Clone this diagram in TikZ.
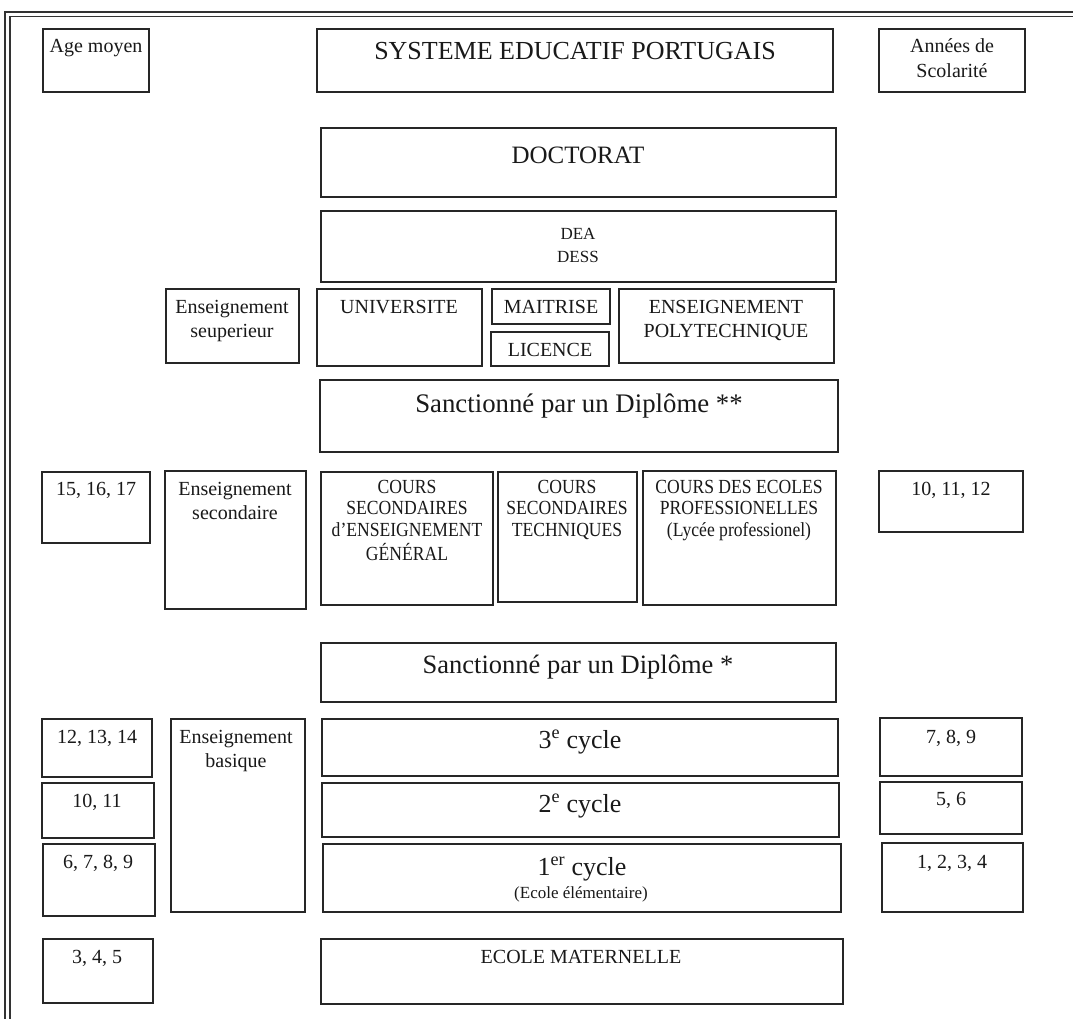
\documentclass[tikz,border=0pt]{standalone}
\usepackage{fontspec}
\setmainfont{Liberation Serif}
\newfontfamily\condfont[FakeStretch=0.88]{Liberation Serif}
\newcommand\bx[5]{\node[box, minimum width={(#4-#2)*1pt}, minimum height={(#5-#3)*1pt}] (#1) at ({(#2+#4)/2},{(#3+#5)/2}) {};}
\newcommand\ml[1]{\begin{tabular}[t]{@{}c@{}}#1\end{tabular}}
\tikzset{
  box/.style={draw=black!85, line width=1.7pt, inner sep=0pt, outer sep=0pt},
  txt/.style={anchor=base, inner sep=0pt, outer sep=0pt, text=black!90},
  s17/.style={font=\fontsize{17}{22}\selectfont},
  s18/.style={font=\condfont\fontsize{20}{21.7}\selectfont},
  s20/.style={font=\fontsize{20}{24}\selectfont},
  s26/.style={font=\fontsize{26}{30}\selectfont},
  s27/.style={font=\fontsize{26.8}{30}\selectfont},
  frameline/.style={draw=black!80, line width=1.3pt}
}
\begin{document}
\begin{tikzpicture}[x=1pt,y=-1pt]
\useasboundingbox[fill=white] (0,0) rectangle (1073,1019);
% outer double frame
\draw[frameline] (5,1019) -- (5,12) -- (1073,12);
\draw[frameline] (10,1019) -- (10,16.5) -- (1073,16.5);
% boxes
\bx{age}{43}{29}{149}{92}
\bx{sys}{317}{29}{833}{92}
\bx{ann}{879}{29}{1025}{92}
\bx{doc}{321}{128}{836}{197}
\bx{dea}{321}{211}{836}{282}
\bx{esup}{166}{289}{299}{363}
\bx{univ}{317}{289}{482}{366}
\bx{mait}{492}{289}{610}{324}
\bx{lic}{491}{332}{609}{366}
\bx{poly}{619}{289}{834}{363}
\bx{dipB}{320}{380}{838}{452}
\bx{aA}{42}{472}{150}{543}
\bx{esec}{165}{471}{306}{609}
\bx{csg}{321}{472}{493}{605}
\bx{cst}{498}{472}{637}{602}
\bx{cep}{643}{471}{836}{605}
\bx{yA}{879}{471}{1023}{532}
\bx{dipA}{321}{643}{836}{702}
\bx{aB}{42}{719}{152}{777}
\bx{ebas}{171}{719}{305}{912}
\bx{cthree}{322}{719}{838}{776}
\bx{ctwo}{322}{783}{839}{837}
\bx{cone}{323}{844}{841}{912}
\bx{mat}{321}{939}{843}{1004}
\bx{yB}{880}{718}{1022}{776}
\bx{yC}{880}{782}{1022}{834}
\bx{yD}{882}{843}{1023}{912}
\bx{aC}{42}{783}{154}{838}
\bx{aD}{43}{844}{155}{916}
\bx{aE}{43}{939}{153}{1003}
% texts
\node[txt,s20] (tage) at (96,53) {Age moyen};
\node[txt,s26] (tsys) at (575,60) {SYSTEME EDUCATIF PORTUGAIS};
\node[txt,font=\fontsize{20}{25}\selectfont] (tann) at (952,53) {\ml{Années de\\Scolarité}};
\node[txt,font=\fontsize{25}{30}\selectfont] (tdoc) at (578,164) {DOCTORAT};
\node[txt,s17] (tdea) at (578,240) {\ml{DEA\\DESS}};
\node[txt,s20] (tesup) at (232,313) {\ml{Enseignement\\seuperieur}};
\node[txt,s20] (tuniv) at (399,313) {UNIVERSITE};
\node[txt,s20] (tmait) at (551,313) {MAITRISE};
\node[txt,s20] (tlic) at (550,356) {LICENCE};
\node[txt,s20] (tpoly) at (726,313) {\ml{ENSEIGNEMENT\\POLYTECHNIQUE}};
\node[txt,s27] (tdipB) at (579,412) {Sanctionné par un Diplôme **};
\node[txt,s20] (taA) at (96,495) {15, 16, 17};
\node[txt,s20] (tesec) at (235,495) {\ml{Enseignement\\secondaire}};
\node[txt,s18] (tcsg) at (407,493) {\ml{COURS\\SECONDAIRES\\d’ENSEIGNEMENT\\GÉNÉRAL}};
\node[txt,s18] (tcst) at (567,493) {\ml{COURS\\SECONDAIRES\\TECHNIQUES}};
\node[txt,s18] (tcep) at (739,493) {\ml{COURS DES ECOLES\\PROFESSIONELLES\\(Lycée professionel)}};
\node[txt,s20] (tyA) at (951,495) {10, 11, 12};
\node[txt,font=\fontsize{26.5}{30}\selectfont] (tdipA) at (578,673) {Sanctionné par un Diplôme *};
\node[txt,s20] (taB) at (97,743) {12, 13, 14};
\node[txt,s20] (tebas) at (236,743) {\ml{Enseignement\\basique}};
\node[txt,s26] (tcthree) at (580,748) {3\textsuperscript{e} cycle};
\node[txt,s26] (tctwo) at (580,812) {2\textsuperscript{e} cycle};
\node[txt,s26] (tcone) at (582,875) {1\textsuperscript{er} cycle};
\node[txt,s17] (tconeb) at (581,898) {(Ecole élémentaire)};
\node[txt,s20] (tmat) at (581,963) {ECOLE MATERNELLE};
\node[txt,s20] (tyB) at (951,743) {7, 8, 9};
\node[txt,s20] (tyC) at (951,805) {5, 6};
\node[txt,s20] (tyD) at (952,868) {1, 2, 3, 4};
\node[txt,s20] (taC) at (97,807) {10, 11};
\node[txt,s20] (taD) at (98,868) {6, 7, 8, 9};
\node[txt,s20] (taE) at (97,963) {3, 4, 5};
\end{tikzpicture}
\end{document}
